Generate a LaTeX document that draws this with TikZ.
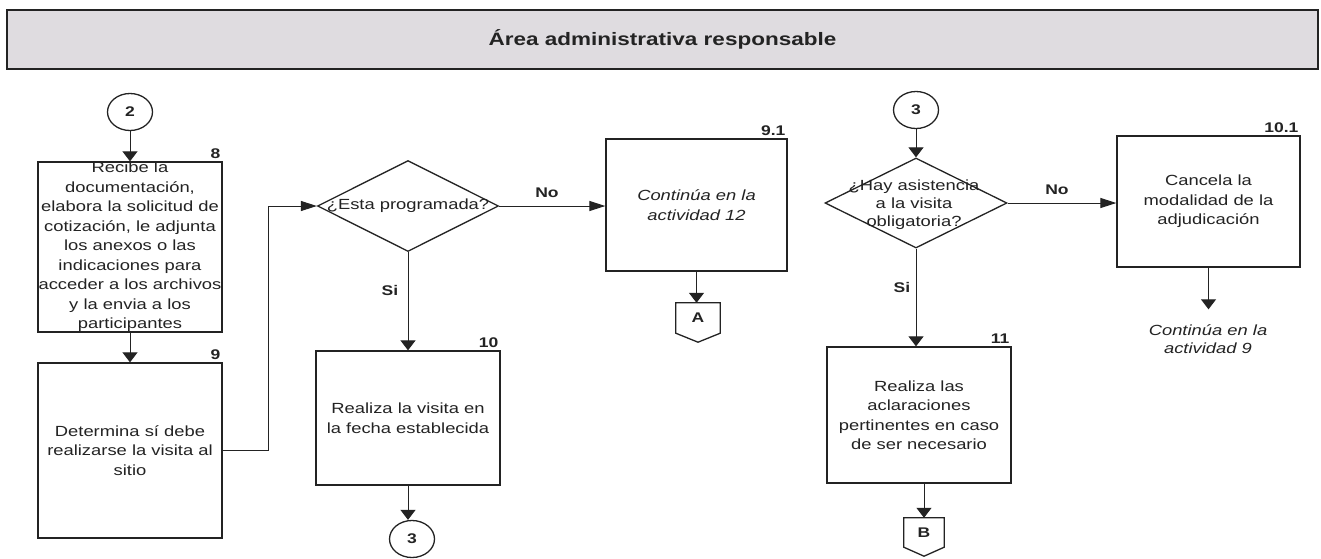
\documentclass[tikz,border=0pt]{standalone}
\usepackage{fontspec}
\setmainfont{Liberation Sans}[FakeStretch=1.25]
\usetikzlibrary{shapes.geometric,arrows.meta,calc}

\definecolor{ink}{RGB}{35,35,35}
\definecolor{hdrfill}{RGB}{223,220,224}

\tikzset{
  txt/.style={font=\fontsize{14.7}{19.5}\selectfont, align=center, text=ink},
  box/.style={txt, rectangle, draw=ink, line width=1.3pt, inner sep=0pt, minimum width=184pt},
  dec/.style={diamond, draw=ink, line width=1.3pt, inner sep=0pt},
  conn/.style={ellipse, draw=ink, line width=1.3pt, inner sep=0pt, minimum width=45pt, minimum height=37pt, font=\fontsize{14}{16}\selectfont\bfseries, text=ink},
  offp/.style={rectangle, inner sep=0pt, font=\fontsize{14}{16}\selectfont\bfseries, text=ink},
  num/.style={font=\fontsize{14}{16}\selectfont\bfseries, text=ink, anchor=south east, inner xsep=2pt, inner ysep=3pt},
  lbl/.style={font=\fontsize{14}{16}\selectfont\bfseries, text=ink},
  varr/.style={draw=ink, line width=1pt, -{Triangle[length=10pt,width=15pt]}},
  harr/.style={draw=ink, line width=1pt, -{Triangle[length=16pt,width=10pt]}}
}

\begin{document}
\begin{tikzpicture}[x=1pt,y=1pt,yscale=-1,xscale=1]
\path[fill=white] (0,0) rectangle (1321,558);
\useasboundingbox (0,0) rectangle (1321,558);

% Header
\node[draw=ink, line width=2.5pt, fill=hdrfill, minimum width=1311pt, minimum height=59pt,
      font=\fontsize{18}{22}\selectfont\bfseries, text=ink] (hdr) at (662.5,39.5) {Área administrativa responsable};

% Left column
\node[conn] (c2) at (130,112) {2};
\node[box, minimum height=170pt] (b8) at (130,247) {Recibe la\\documentación,\\elabora la solicitud de\\cotización, le adjunta\\los anexos o las\\indicaciones para\\acceder a los archivos\\y la envia a los\\participantes};
\node[num] (n8) at (b8.north east) {8};
\node[box, minimum height=175pt] (b9) at (130,450.5) {Determina sí debe\\realizarse la visita al\\sitio};
\node[num] (n9) at (b9.north east) {9};

% Decision 1
\node[dec, minimum width=181pt, minimum height=91pt] (d1) at (408,206) {};
\node[txt] (d1t) at (d1.center) {¿Esta programada?};
\node[box, minimum height=134pt] (b10) at (408,418) {Realiza la visita en\\la fecha establecida};
\node[num] (n10) at (b10.north east) {10};
\node[conn] (c3a) at (412,539) {3};
\node[box, minimum width=181pt, minimum height=132pt] (b91) at (696.5,205) {\itshape Continúa en la\\\itshape actividad 12};
\node[num] (n91) at (b91.north east) {9.1};
\node[offp, minimum width=44pt, minimum height=30pt] (pA) at (698,318) {A};
\draw[ink, line width=1.3pt] (pA.south west) -- (pA.north west) -- (pA.north east) -- (pA.south east) -- ($(pA.south)+(0,9)$) -- cycle;

% Decision 2
\node[conn] (c3b) at (916,110) {3};
\node[dec, minimum width=182pt, minimum height=90pt] (d2) at (916,203) {};
\node[txt, font=\fontsize{14.7}{18}\selectfont] (d2t) at (914,205) {¿Hay asistencia\\a la visita\\obligatoria?};
\node[box, minimum height=136pt] (b11) at (919,415) {Realiza las\\aclaraciones\\pertinentes en caso\\de ser necesario};
\node[num] (n11) at (b11.north east) {11};
\node[offp, minimum width=40pt, minimum height=29pt] (pB) at (924,532.5) {B};
\draw[ink, line width=1.3pt] (pB.south west) -- (pB.north west) -- (pB.north east) -- (pB.south east) -- ($(pB.south)+(0,9)$) -- cycle;
\node[box, minimum width=183pt, minimum height=131pt] (b101) at (1208.5,201.5) {Cancela la\\modalidad de la\\adjudicación};
\node[num] (n101) at (b101.north east) {10.1};
\node[txt, font=\fontsize{14.7}{18}\selectfont, inner ysep=15pt] (t9) at (1208,339) {\itshape Continúa en la\\\itshape actividad 9};

% Text Node
\node[lbl] (no1) at (547,193) {No};
\node[lbl] (si1) at (390,290) {Si};
\node[lbl] (no2) at (1057,190) {No};
\node[lbl] (si2) at (902,287) {Si};

% Connectors
\coordinate (jog) at (268,450);
\draw[varr] (c2.south) -- (b8.north);
\draw[varr] (b8.south) -- (b9.north);
\draw[harr] (b9.east) -- (b9.east -| jog) |- (d1.west);
\draw[harr] (d1.east) -- (d1.east -| b91.west);
\draw[varr] (d1.south) -- (d1.south |- b10.north);
\draw[varr] (b10.south) -- (b10.south |- c3a.north);
\draw[varr] (b91.south) -- (b91.south |- pA.north);
\draw[varr] (c3b.south) -- (d2.north);
\draw[harr] (d2.east) -- (d2.east -| b101.west);
\draw[varr] (d2.south) -- (d2.south |- b11.north);
\draw[varr] (pB.north |- b11.south) -- (pB.north);
\draw[varr] (b101.south) -- (b101.south |- t9.north);

\end{tikzpicture}
\end{document}
